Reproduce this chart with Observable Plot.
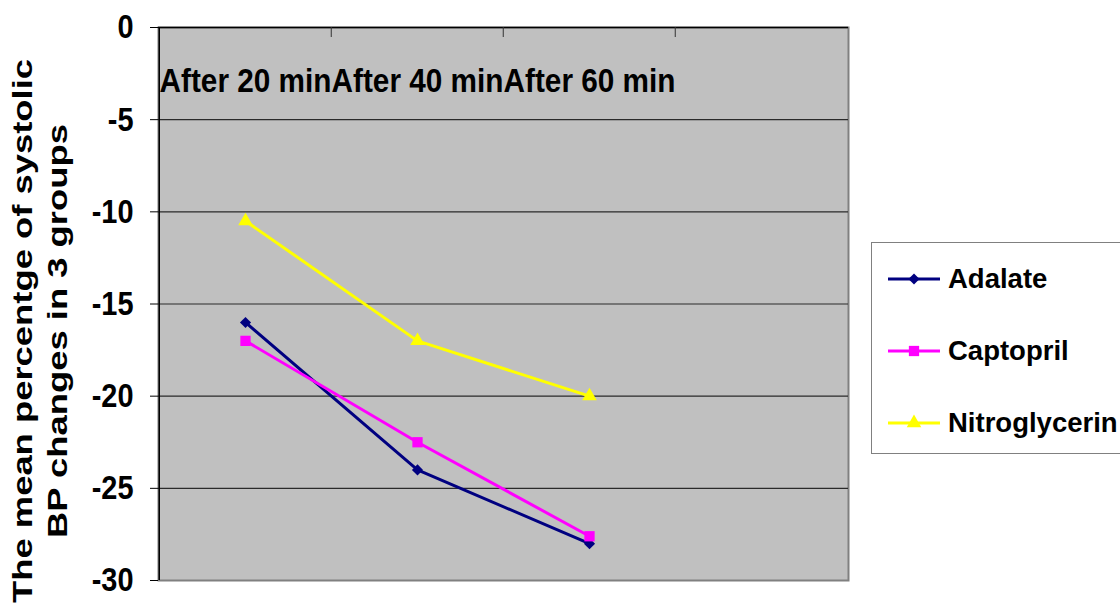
<!DOCTYPE html>
<html>
<head>
<meta charset="utf-8">
<script src="https://cdn.jsdelivr.net/npm/d3@7"></script>
<script src="https://cdn.jsdelivr.net/npm/@observablehq/plot@0.6"></script>
<style>
  html, body { margin: 0; padding: 0; background: #fff; overflow: hidden; }
  #wrap { position: relative; width: 1120px; height: 615px; overflow: hidden; }
  #legend { position: absolute; left: 871px; top: 242px; width: 262px; height: 212px;
            border: 1.5px solid #808080; background: #fff; box-sizing: border-box; }
  .lg-row { position: absolute; left: 0; height: 40px; display: flex; align-items: center; }
  .lg-row span { font-family: "Liberation Sans", Arial, Helvetica, sans-serif; font-weight: bold;
                 font-size: 27.5px; color: #000; margin-left: 4px; white-space: nowrap; }
</style>
</head>
<body>
<div id="wrap"></div>
<script>
// ---- data ----
const timeLabels = ["After 20 min", "After 40 min", "After 60 min"];
const emptySlot = [" "];                       // fourth (empty) category band
const seriesNames = ["Adalate", "Captopril", "Nitroglycerin"];
const adalate = [-16, -24, -28];
const captopril = [-17, -22.5, -27.6];
const nitroglycerin = [-10.5, -17, -20];
const yTicks = [0, -5, -10, -15, -20, -25, -30];
const yTitle = ["The mean percentge of systolic", "BP changes in 3 groups"];

// ---- styles ----
const seriesColors = ["#000080", "#FF00FF", "#FFFF00"];
const seriesSymbols = ["diamond2", "square", "triangle"];
const markerR = [5, 5.8, 5.4];
const font = '"Liberation Sans", Arial, Helvetica, sans-serif';

const W = 1120, H = 615, mL = 158, mR = 272, mT = 27, mB = 35;
const xDomain = [...timeLabels, ...emptySlot];
const bw = (W - mL - mR) / xDomain.length;

const values = [adalate, captopril, nitroglycerin];
const rows = seriesNames.flatMap((s, i) => timeLabels.map((t, j) => ({series: s, time: t, value: values[i][j]})));

const chart = Plot.plot({
  width: W, height: H,
  marginLeft: mL, marginRight: mR, marginTop: mT, marginBottom: mB,
  style: {fontFamily: font, background: "transparent", overflow: "visible"},
  x: {type: "band", domain: xDomain, padding: 0, axis: null},
  y: {domain: [-30, 0], axis: null},
  color: {domain: seriesNames, range: seriesColors},
  marks: [
    Plot.frame({fill: "#C0C0C0", stroke: "#808080", strokeWidth: 2}),
    Plot.ruleY(yTicks.filter(v => v !== 0 && v !== -30), {stroke: "#2a2a2a", strokeWidth: 1.2}),
    Plot.ruleY([0], {stroke: "#000", strokeWidth: 1.5}),
    Plot.ruleX(xDomain.slice(0, 1), {dx: -bw / 2, stroke: "#000", strokeWidth: 1.5}),
    Plot.ruleX(xDomain.slice(1), {y1: 0, y2: 0, insetBottom: -10, dx: -bw / 2, stroke: "#333", strokeWidth: 1}),
    Plot.axisY({ticks: yTicks, tickSize: 8, tickPadding: 17, tickFormat: d => String(d),
                fontSize: 34, fontWeight: "bold", label: null, stroke: "#000"}),
    Plot.text(timeLabels, {x: d => d, frameAnchor: "top", dy: 54, lineAnchor: "middle",
                           fontSize: 34, fontWeight: "bold", fill: "#000"}),
    Plot.text([yTitle.join("\n")], {frameAnchor: "left", textAnchor: "middle", rotate: -90, dx: -151, dy: 27,
                                    lineAnchor: "top", fontSize: 28, fontWeight: "bold", lineHeight: 1.25, fill: "#000"}),
    Plot.line(rows, {x: "time", y: "value", z: "series", stroke: "series", strokeWidth: 3}),
    ...seriesNames.map((s, i) => Plot.dot(rows.filter(d => d.series === s),
      {x: "time", y: "value", fill: seriesColors[i], symbol: seriesSymbols[i], r: markerR[i], stroke: "none"}))
  ]
});

document.getElementById("wrap").appendChild(chart);

// stretch text to match the reference's aspect
function squeeze(t, sx, sy) {
  const x = +t.getAttribute("x") || 0, y = +t.getAttribute("y") || 0;
  const T = t.getAttribute("transform") || "";
  t.setAttribute("transform", `${T} translate(${x},${y}) scale(${sx},${sy}) translate(${-x},${-y})`);
}
const tickStrings = yTicks.map(String);
chart.querySelectorAll("text").forEach(t => {
  const s = t.textContent;
  if (timeLabels.includes(s)) squeeze(t, 0.875, 1);
  else if (tickStrings.includes(s)) squeeze(t, 0.85, 1);
  else if (s.startsWith(yTitle[0])) squeeze(t, 1.3, 1);
});

// ---- legend ----
const legend = d3.select("#wrap").append("div").attr("id", "legend");
const symbolMap = {diamond2: d3.symbolDiamond2, square: d3.symbolSquare, triangle: d3.symbolTriangle};
seriesNames.forEach((s, i) => {
  const row = legend.append("div").attr("class", "lg-row").style("top", (16 + i * 72) + "px");
  const svg = row.append("svg").attr("width", 72).attr("height", 40);
  svg.append("line").attr("x1", 16).attr("x2", 68).attr("y1", 20).attr("y2", 20)
     .attr("stroke", seriesColors[i]).attr("stroke-width", 3);
  svg.append("path").attr("transform", "translate(42,20)")
     .attr("d", d3.symbol(symbolMap[seriesSymbols[i]], Math.PI * markerR[i] * markerR[i])())
     .attr("fill", seriesColors[i]);
  row.append("span").text(s);
});
</script>
</body>
</html>
